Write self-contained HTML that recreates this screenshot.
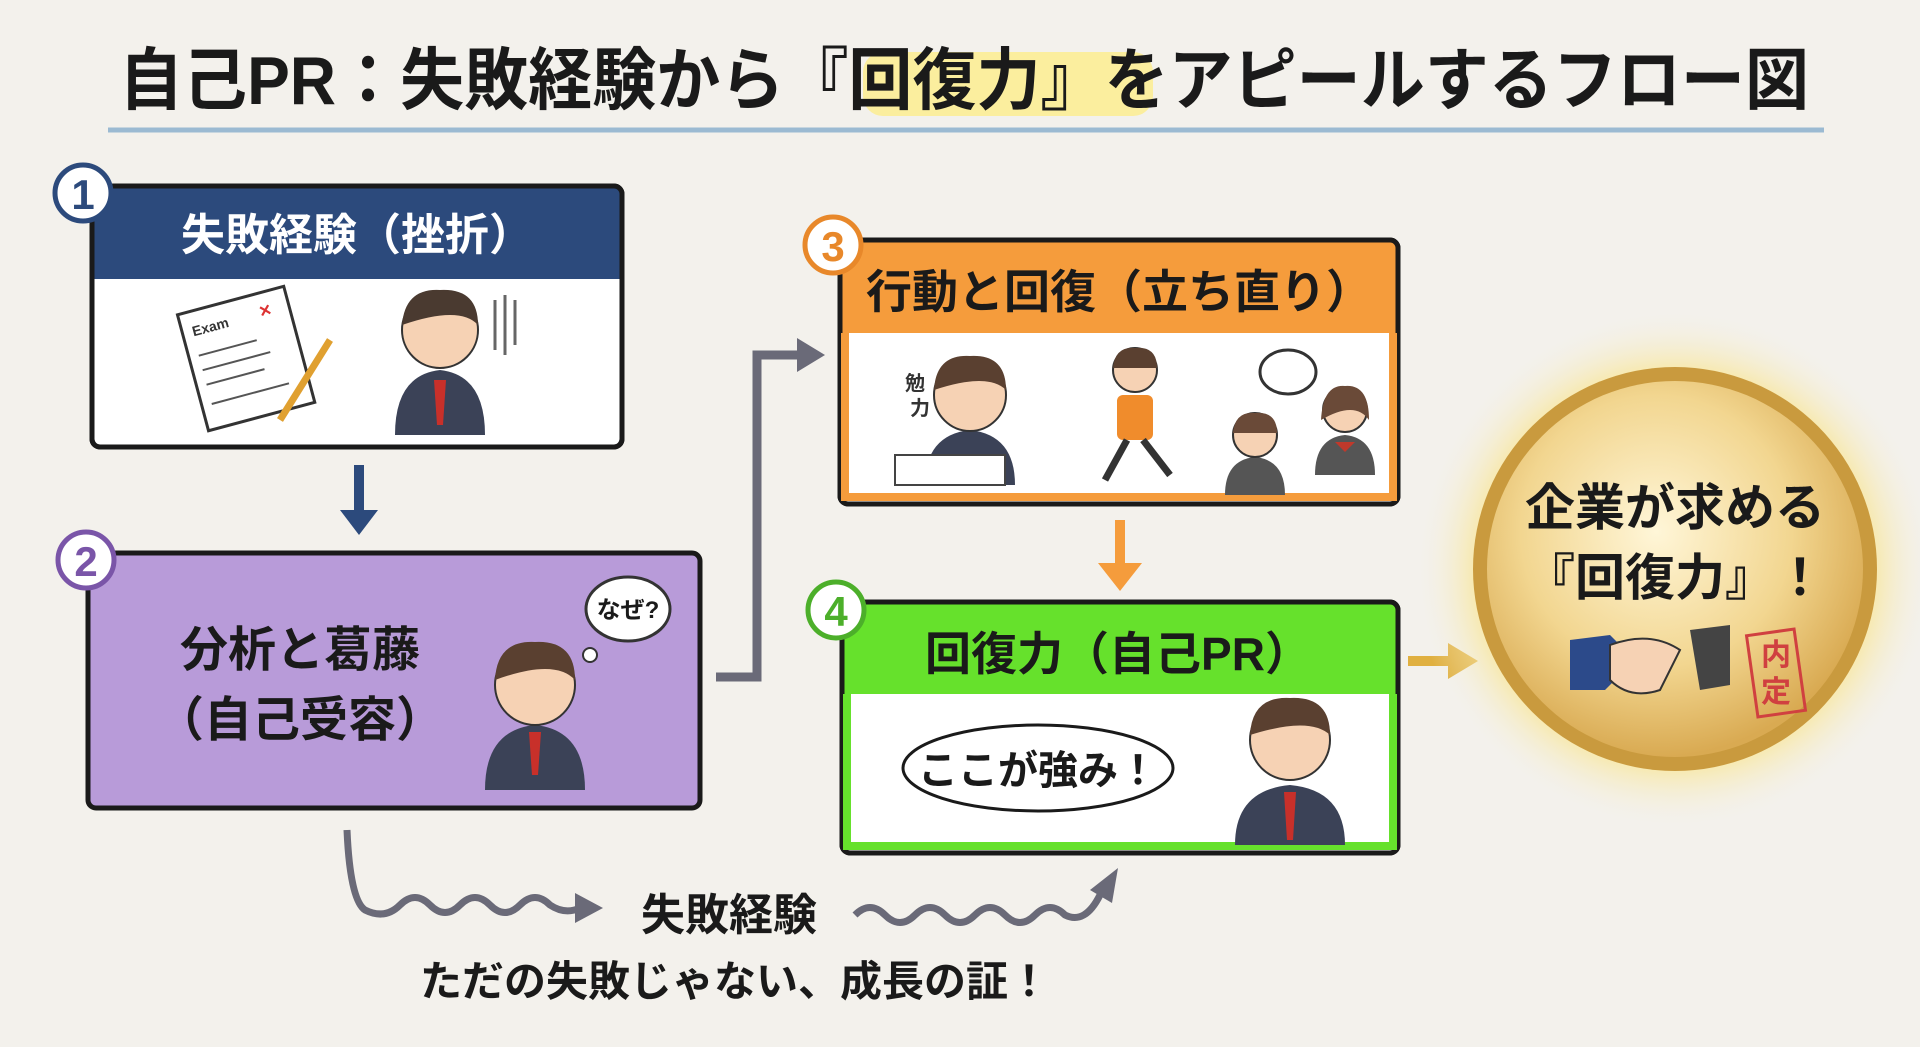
<!DOCTYPE html>
<html><head><meta charset="utf-8"><style>
html,body{margin:0;padding:0;background:#f3f1ec;}
svg{display:block;}
text{font-family:"Liberation Sans","Noto Sans CJK JP",sans-serif;font-weight:bold;}
</style></head><body>
<svg width="1920" height="1047" viewBox="0 0 1920 1047" xmlns="http://www.w3.org/2000/svg">
<defs>
<radialGradient id="glow" cx="50%" cy="50%" r="50%">
<stop offset="0.7" stop-color="#fbe27a" stop-opacity="0.9"/>
<stop offset="1" stop-color="#f3f1ec" stop-opacity="0"/>
</radialGradient>
<radialGradient id="gold" cx="45%" cy="40%" r="60%">
<stop offset="0" stop-color="#fff6d8"/>
<stop offset="0.6" stop-color="#f2d690"/>
<stop offset="1" stop-color="#d9aa52"/>
</radialGradient>
<marker id="ah" markerWidth="6" markerHeight="6" refX="3" refY="3" orient="auto"><path d="M0,0 L6,3 L0,6 z" fill="#6a6a78"/></marker>
</defs>
<rect width="1920" height="1047" fill="#f3f1ec"/>

<!-- Title -->
<rect x="863" y="52" width="290" height="64" rx="20" fill="#fbee9e"/>
<text x="964" y="104" font-size="68" text-anchor="middle" fill="#1a1a1a" textLength="1690" lengthAdjust="spacingAndGlyphs">自己PR：失敗経験から『回復力』をアピールするフロー図</text>
<line x1="108" y1="130" x2="1824" y2="130" stroke="#9bbad2" stroke-width="5"/>

<!-- Box1 -->
<rect x="92" y="186" width="530" height="261" rx="8" fill="#fff" stroke="#1a1a1a" stroke-width="5"/>
<path d="M92,279 V194 a8,8 0 0 1 8,-8 H614 a8,8 0 0 1 8,8 V279 Z" fill="#2c4a7c"/>
<rect x="92" y="279" width="530" height="168" fill="none"/>
<rect x="92" y="186" width="530" height="261" rx="8" fill="none" stroke="#1a1a1a" stroke-width="5"/>
<text x="357" y="250" font-size="44" text-anchor="middle" fill="#fff">失敗経験（挫折）</text>
<circle cx="83" cy="193" r="28" fill="#fff" stroke="#2c4a7c" stroke-width="5"/>
<text x="83" y="209" font-size="42" text-anchor="middle" fill="#2c4a7c">1</text>
<!-- exam paper -->
<g transform="rotate(-15 240 355)">
<rect x="190" y="300" width="110" height="120" fill="#fff" stroke="#333" stroke-width="3"/>
<text x="200" y="325" font-size="14" fill="#333">Exam</text>
<line x1="200" y1="345" x2="260" y2="345" stroke="#555" stroke-width="2"/><line x1="200" y1="360" x2="270" y2="360" stroke="#555" stroke-width="2"/><line x1="200" y1="375" x2="260" y2="375" stroke="#555" stroke-width="2"/><line x1="200" y1="395" x2="280" y2="395" stroke="#555" stroke-width="2"/>
<text x="270" y="325" font-size="20" fill="#d33">×</text>
</g>
<line x1="280" y1="420" x2="330" y2="340" stroke="#e0a030" stroke-width="7"/>
<!-- sad person -->
<g transform="translate(440,300)">
<path d="M-45,135 Q-45,75 0,70 Q45,75 45,135 Z" fill="#3b4257"/>
<path d="M-6,80 L6,80 L3,125 L-3,125Z" fill="#c8302a"/>
<circle cx="0" cy="30" r="38" fill="#f6d2b4" stroke="#333" stroke-width="2"/>
<path d="M-38,25 Q-35,-12 0,-10 Q38,-12 38,25 Q20,5 -38,25Z" fill="#4a3a30"/>
</g>
<g stroke="#666" stroke-width="3"><line x1="495" y1="300" x2="495" y2="350"/><line x1="505" y1="295" x2="505" y2="355"/><line x1="515" y1="300" x2="515" y2="345"/></g>

<!-- arrow 1->2 -->
<line x1="359" y1="465" x2="359" y2="515" stroke="#2c4a7c" stroke-width="10"/>
<path d="M340,510 L378,510 L359,535 Z" fill="#2c4a7c"/>

<!-- Box2 -->
<rect x="88" y="553" width="612" height="255" rx="8" fill="#b89bd9" stroke="#1a1a1a" stroke-width="5"/>
<circle cx="86" cy="560" r="28" fill="#fff" stroke="#7a55a8" stroke-width="5"/>
<text x="86" y="576" font-size="42" text-anchor="middle" fill="#7a55a8">2</text>
<text x="300" y="666" font-size="48" text-anchor="middle" fill="#1a1a1a">分析と葛藤</text>
<text x="300" y="736" font-size="48" text-anchor="middle" fill="#1a1a1a">（自己受容）</text>
<ellipse cx="628" cy="609" rx="42" ry="32" fill="#fff" stroke="#333" stroke-width="3"/>
<circle cx="590" cy="655" r="7" fill="#fff" stroke="#333" stroke-width="2"/>
<text x="628" y="618" font-size="24" text-anchor="middle" fill="#1a1a1a">なぜ?</text>
<g transform="translate(535,650)">
<path d="M-50,140 Q-50,80 0,75 Q50,80 50,140 Z" fill="#3b4257"/>
<path d="M-6,82 L6,82 L3,125 L-3,125Z" fill="#c8302a"/>
<circle cx="0" cy="35" r="40" fill="#f6d2b4" stroke="#333" stroke-width="2"/>
<path d="M-40,30 Q-38,-10 0,-8 Q40,-10 40,30 Q20,8 -40,30Z" fill="#5a4030"/>
</g>

<!-- connector 2->3 -->
<polyline points="716,677 757,677 757,355 800,355" fill="none" stroke="#6a6a78" stroke-width="9"/>
<path d="M797,338 L825,355 L797,372 Z" fill="#6a6a78"/>

<!-- Box3 -->
<rect x="840" y="240" width="558" height="264" rx="8" fill="#fff" stroke="#1a1a1a" stroke-width="5"/>
<path d="M840,333 V248 a8,8 0 0 1 8,-8 H1390 a8,8 0 0 1 8,8 V333 Z" fill="#f59c3c"/>
<rect x="840" y="240" width="558" height="264" rx="8" fill="none" stroke="#1a1a1a" stroke-width="5"/>
<path d="M845,333 V497 H1393 V333" fill="none" stroke="#f59c3c" stroke-width="8"/>
<text x="1119" y="308" font-size="46" text-anchor="middle" fill="#1a1a1a">行動と回復（立ち直り）</text>
<circle cx="833" cy="245" r="28" fill="#fff" stroke="#e8882a" stroke-width="5"/>
<text x="833" y="261" font-size="42" text-anchor="middle" fill="#e8882a">3</text>
<!-- study person -->
<g transform="translate(970,390)">
<path d="M-45,95 Q-45,45 0,40 Q45,45 45,95 Z" fill="#3b4257"/>
<circle cx="0" cy="5" r="36" fill="#f6d2b4" stroke="#333" stroke-width="2"/>
<path d="M-36,0 Q-34,-36 0,-34 Q36,-36 36,0 Q18,-18 -36,0Z" fill="#5a4030"/>
</g>
<rect x="895" y="455" width="110" height="30" fill="#fff" stroke="#444" stroke-width="2"/>
<text x="905" y="390" font-size="20" fill="#333">勉</text><text x="910" y="415" font-size="20" fill="#333">力</text>
<!-- runner -->
<g transform="translate(1135,370)">
<circle cx="0" cy="0" r="22" fill="#f6d2b4" stroke="#333" stroke-width="2"/>
<path d="M-22,-2 Q-20,-24 0,-22 Q22,-24 22,-2Z" fill="#5a4030"/>
<rect x="-18" y="25" width="36" height="45" rx="6" fill="#f08c2c"/>
<line x1="-8" y1="70" x2="-30" y2="110" stroke="#333" stroke-width="7"/>
<line x1="8" y1="70" x2="35" y2="105" stroke="#333" stroke-width="7"/>
</g>
<!-- talkers -->
<ellipse cx="1288" cy="372" rx="28" ry="22" fill="#fff" stroke="#333" stroke-width="3"/>
<g transform="translate(1255,435)"><path d="M-30,60 Q-30,25 0,22 Q30,25 30,60 Z" fill="#555"/><circle cx="0" cy="0" r="22" fill="#f6d2b4" stroke="#333" stroke-width="2"/><path d="M-22,-2 Q-20,-24 0,-22 Q22,-24 22,-2Z" fill="#6a4a38"/></g>
<g transform="translate(1345,410)"><path d="M-30,65 Q-30,28 0,25 Q30,28 30,65 Z" fill="#555"/><path d="M-10,32 L10,32 L0,42Z" fill="#c0392b"/><circle cx="0" cy="0" r="22" fill="#f6d2b4" stroke="#333" stroke-width="2"/><path d="M-24,10 Q-22,-26 0,-24 Q24,-26 24,10 Q10,-10 -24,10Z" fill="#6a4a38"/></g>

<!-- arrow 3->4 -->
<line x1="1120" y1="520" x2="1120" y2="568" stroke="#f59c3c" stroke-width="10"/>
<path d="M1098,563 L1142,563 L1120,591 Z" fill="#f59c3c"/>

<!-- Box4 -->
<rect x="842" y="602" width="556" height="251" rx="8" fill="#fff" stroke="#1a1a1a" stroke-width="5"/>
<path d="M842,694 V610 a8,8 0 0 1 8,-8 H1390 a8,8 0 0 1 8,8 V694 Z" fill="#66e12c"/>
<rect x="842" y="602" width="556" height="251" rx="8" fill="none" stroke="#1a1a1a" stroke-width="5"/>
<path d="M847,694 V846 H1393 V694" fill="none" stroke="#66e12c" stroke-width="8"/>
<text x="1118" y="670" font-size="46" text-anchor="middle" fill="#1a1a1a">回復力（自己PR）</text>
<circle cx="836" cy="610" r="28" fill="#fff" stroke="#4caf2a" stroke-width="5"/>
<text x="836" y="626" font-size="42" text-anchor="middle" fill="#4caf2a">4</text>
<ellipse cx="1038" cy="768" rx="135" ry="43" fill="#fff" stroke="#1a1a1a" stroke-width="3"/>
<text x="1038" y="784" font-size="40" text-anchor="middle" fill="#1a1a1a">ここが強み！</text>
<g transform="translate(1290,730)">
<path d="M-55,115 Q-55,60 0,55 Q55,60 55,115 Z" fill="#3b4257"/>
<path d="M-6,62 L6,62 L3,110 L-3,110Z" fill="#c8302a"/>
<circle cx="0" cy="10" r="40" fill="#f6d2b4" stroke="#333" stroke-width="2"/>
<path d="M-40,5 Q-38,-34 0,-32 Q40,-34 40,5 Q20,-14 -40,5Z" fill="#5a4030"/>
</g>

<!-- arrow 4->gold -->
<line x1="1408" y1="661" x2="1452" y2="661" stroke="#e0b040" stroke-width="10"/>
<path d="M1448,643 L1478,661 L1448,679 Z" fill="#e0b040"/>

<!-- Gold circle -->
<circle cx="1675" cy="569" r="260" fill="url(#glow)"/>
<circle cx="1675" cy="569" r="202" fill="#c99a3e"/>
<circle cx="1675" cy="569" r="188" fill="url(#gold)"/>
<text x="1675" y="525" font-size="50" text-anchor="middle" fill="#1a1a1a">企業が求める</text>
<text x="1675" y="595" font-size="50" text-anchor="middle" fill="#1a1a1a">『回復力』！</text>
<path d="M1570,640 L1610,635 L1635,660 L1605,690 L1570,690Z" fill="#2c4a8a"/>
<path d="M1610,645 Q1650,630 1680,650 L1660,690 Q1630,700 1610,680Z" fill="#f6d2b4" stroke="#333" stroke-width="2"/>
<path d="M1690,630 L1730,625 L1730,685 L1700,690Z" fill="#444"/>
<rect x="1752" y="632" width="48" height="82" fill="none" stroke="#d04040" stroke-width="3" transform="rotate(-8 1776 673)"/>
<text x="1776" y="665" font-size="30" text-anchor="middle" fill="#d04040">内</text>
<text x="1776" y="702" font-size="30" text-anchor="middle" fill="#d04040">定</text>

<!-- bottom wavy -->
<path d="M347,830 Q350,900 365,910 Q385,920 400,905 Q415,890 430,905 Q445,920 460,905 Q475,890 490,905 Q505,920 520,905 Q535,890 550,905 Q565,915 580,908" fill="none" stroke="#6a6a78" stroke-width="7"/>
<path d="M575,893 L603,908 L575,923 Z" fill="#6a6a78"/>
<path d="M855,915 Q870,900 885,915 Q900,930 915,915 Q930,900 945,915 Q960,930 975,915 Q990,900 1005,915 Q1020,930 1035,915 Q1050,900 1065,915 Q1085,925 1100,895" fill="none" stroke="#6a6a78" stroke-width="7"/>
<path d="M1090,890 L1118,868 L1112,903 Z" fill="#6a6a78"/>
<text x="729" y="930" font-size="44" text-anchor="middle" fill="#1a1a1a">失敗経験</text>
<text x="735" y="996" font-size="42" text-anchor="middle" fill="#1a1a1a">ただの失敗じゃない、成長の証！</text>
</svg>
</body></html>
